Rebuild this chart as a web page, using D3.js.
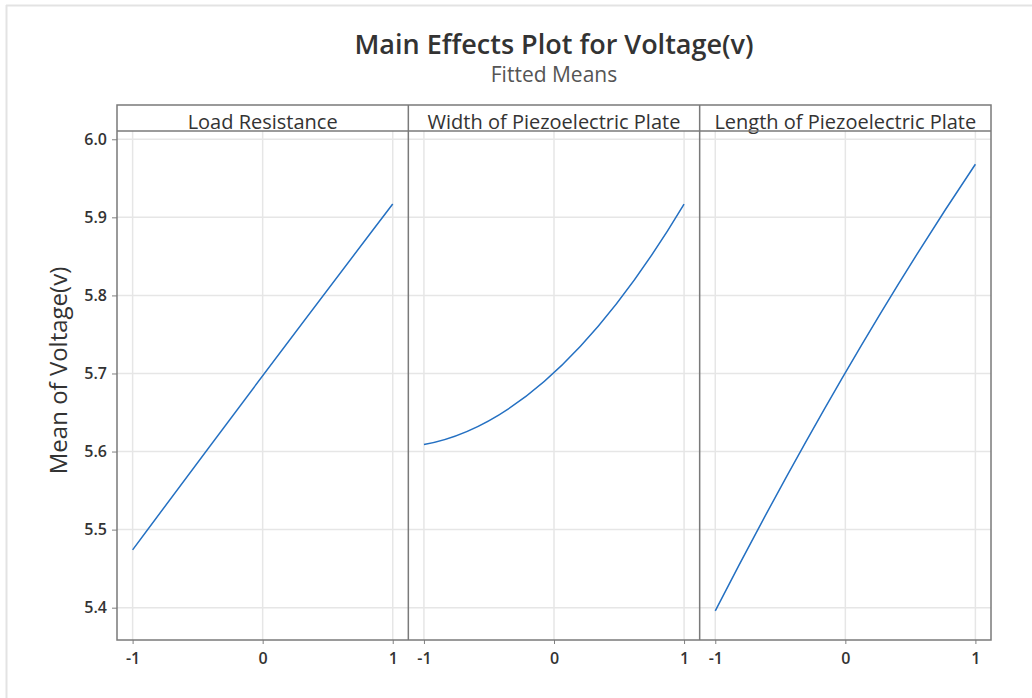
<!DOCTYPE html>
<html>
<head>
<meta charset="utf-8">
<script src="https://cdn.jsdelivr.net/npm/d3@7"></script>
<style>
  html, body { margin: 0; padding: 0; background: #fff; }
  svg { display: block; font-family: "Open Sans", "Noto Sans", sans-serif; }
</style>
</head>
<body>
<svg id="chart" width="1032" height="698"></svg>
<script>
// Factors (one panel each) and their coded levels
const factors = ["Load Resistance", "Width of Piezoelectric Plate", "Length of Piezoelectric Plate"];
const levels = [-1, 0, 1];

// Fitted means of Voltage(v) at levels -1, 0, 1
const loadResistanceMeans = [5.474, 5.697, 5.917];
const plateWidthMeans = [5.609, 5.701, 5.917];
const plateLengthMeans = [5.396, 5.701, 5.968];
const seriesMeans = [loadResistanceMeans, plateWidthMeans, plateLengthMeans];

// Axis ticks
const yTicks = [5.4, 5.5, 5.6, 5.7, 5.8, 5.9, 6.0];
const xTicks = [-1, 0, 1];

const svg = d3.select("#chart");

// light page frame
svg.append("line").attr("x1", 6).attr("x2", 1032).attr("y1", 5.5).attr("y2", 5.5)
  .attr("stroke", "#e3e3e3").attr("stroke-width", 2);
svg.append("line").attr("x1", 6.5).attr("x2", 6.5).attr("y1", 5).attr("y2", 698)
  .attr("stroke", "#e3e3e3").attr("stroke-width", 2);

const frame = { left: 117, right: 991, top: 105, stripBottom: 131, bottom: 640 };
const panelW = (frame.right - frame.left) / factors.length;

const y = d3.scaleLinear().domain([5.3586, 6.0106]).range([frame.bottom, frame.stripBottom]);

// Titles
svg.append("text").attr("x", 554).attr("y", 54).attr("text-anchor", "middle")
  .attr("font-size", 27).attr("font-weight", 600).attr("fill", "#333")
  .text("Main Effects Plot for Voltage(v)");
svg.append("text").attr("x", 554).attr("y", 82).attr("text-anchor", "middle")
  .attr("font-size", 21).attr("fill", "#555")
  .text("Fitted Means");

// Y axis title
svg.append("text")
  .attr("transform", `translate(67,${(frame.stripBottom + frame.bottom) / 2 - 15}) rotate(-90)`)
  .attr("text-anchor", "middle").attr("font-size", 24).attr("fill", "#333")
  .text("Mean of Voltage(v)");

// horizontal grid across all panels
svg.append("g").selectAll("line").data(yTicks).join("line")
  .attr("x1", frame.left).attr("x2", frame.right)
  .attr("y1", d => y(d)).attr("y2", d => y(d))
  .attr("stroke", "#e6e6e6").attr("stroke-width", 1.5);

factors.forEach((name, i) => {
  const x0 = frame.left + i * panelW;
  const x1 = x0 + panelW;
  const x = d3.scaleLinear().domain([-1.12, 1.12]).range([x0, x1]);
  const g = svg.append("g");

  // vertical grid
  g.selectAll("line.vg").data(xTicks).join("line").attr("class", "vg")
    .attr("x1", d => x(d)).attr("x2", d => x(d))
    .attr("y1", frame.stripBottom).attr("y2", frame.bottom)
    .attr("stroke", "#e6e6e6").attr("stroke-width", 1.5);

  // x axis ticks and labels
  const xAxis = d3.axisBottom(x).tickValues(xTicks).tickSize(4).tickPadding(9)
    .tickFormat(d => String(d));
  const ax = g.append("g").attr("transform", `translate(0,${frame.bottom})`).call(xAxis);
  ax.select(".domain").remove();
  ax.selectAll(".tick line").attr("stroke", "#808080");
  ax.selectAll(".tick text").attr("font-size", 16).attr("font-weight", 600).attr("fill", "#333")
    .attr("font-family", "'Open Sans', sans-serif");

  // fitted-means curve: the parabola through the three level means,
  // drawn as a quadratic Bezier (control point from the middle mean)
  const m = seriesMeans[i];
  const pts = levels.map((lv, k) => [x(lv), y(m[k])]);
  const ctrlY = 2 * pts[1][1] - (pts[0][1] + pts[2][1]) / 2;
  const p = d3.path();
  p.moveTo(pts[0][0], pts[0][1]);
  p.quadraticCurveTo(pts[1][0], ctrlY, pts[2][0], pts[2][1]);
  g.append("path").attr("d", p.toString())
    .attr("fill", "none").attr("stroke", "#2470c2").attr("stroke-width", 1.5);

  // strip label
  g.append("text").attr("x", (x0 + x1) / 2).attr("y", 129)
    .attr("text-anchor", "middle").attr("font-size", 20).attr("fill", "#333")
    .text(name);

  // panel divider
  if (i > 0) {
    g.append("line").attr("x1", x0).attr("x2", x0)
      .attr("y1", frame.top).attr("y2", frame.bottom)
      .attr("stroke", "#7a7a7a").attr("stroke-width", 1.5);
  }
});

// y axis
const yAxis = d3.axisLeft(y).tickValues(yTicks).tickSize(5).tickPadding(5)
  .tickFormat(d3.format(".1f"));
const ay = svg.append("g").attr("transform", `translate(${frame.left},0)`).call(yAxis);
ay.select(".domain").remove();
ay.selectAll(".tick line").attr("stroke", "#808080");
ay.selectAll(".tick text").attr("font-size", 16).attr("font-weight", 600).attr("fill", "#333")
  .attr("font-family", "'Open Sans', sans-serif");

// outer frame and strip separator
svg.append("rect").attr("x", frame.left).attr("y", frame.top)
  .attr("width", frame.right - frame.left).attr("height", frame.bottom - frame.top)
  .attr("fill", "none").attr("stroke", "#7a7a7a").attr("stroke-width", 1.5);
svg.append("line").attr("x1", frame.left).attr("x2", frame.right)
  .attr("y1", frame.stripBottom).attr("y2", frame.stripBottom)
  .attr("stroke", "#7a7a7a").attr("stroke-width", 1.5);
</script>
</body>
</html>
